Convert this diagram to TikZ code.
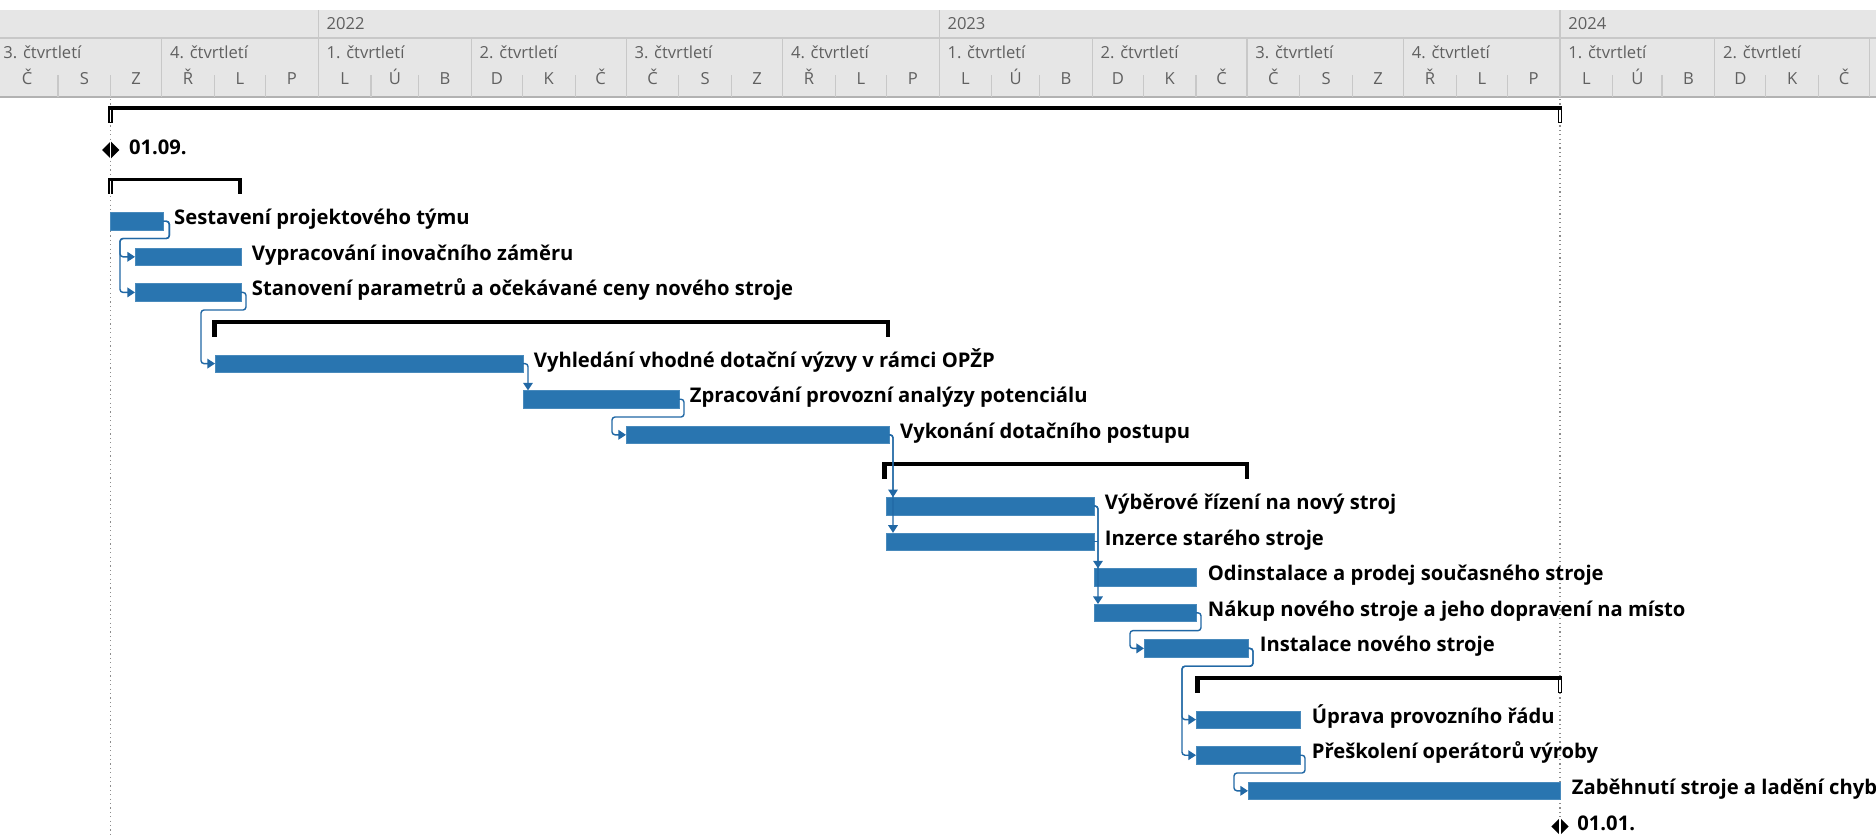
\documentclass[tikz,border=0pt]{standalone}
\usepackage{fontspec}
\setmainfont{Open Sans}
\usetikzlibrary{arrows.meta,calc,shapes.geometric}

\definecolor{barblue}{RGB}{41,117,176}
\definecolor{linkblue}{RGB}{33,104,165}
\definecolor{hdrbg}{RGB}{230,230,230}
\definecolor{hdrline}{RGB}{200,200,200}
\definecolor{hdrtext}{RGB}{96,96,96}
\definecolor{gridline}{RGB}{140,140,140}

\tikzset{
  taskbar/.style={fill=barblue, draw=barblue!85!white, line width=0.3pt,
    inner sep=0pt, outer sep=0pt, minimum height=8.8pt, anchor=west},
  link/.style={draw=linkblue, line width=0.7pt, rounded corners=1.5pt,
    -{Triangle[length=3.8pt,width=4.8pt]}},
  linkstub/.style={draw=linkblue, line width=0.7pt},
  tasklabel/.style={font=\bfseries\fontsize{10.1pt}{12pt}\selectfont,
    anchor=base west, inner sep=0pt, text=black},
  hdr/.style={font=\fontsize{8.3pt}{10pt}\selectfont, text=hdrtext, inner sep=0pt},
  milestone/.style={diamond, fill=black, inner sep=0pt,
    minimum width=8.8pt, minimum height=8.8pt},
  projline/.style={draw=gridline, line width=0.6pt, dash pattern=on 0.6pt off 1.6pt},
  hdrrule/.style={draw=hdrline, line width=0.6pt},
}

% task bar: name, start x, end x, row centre y
\newcommand\ganttbar[4]{\node[taskbar, minimum width={(#3-#2)*0.5pt}] (#1) at (#2,#4) {};}
% summary bracket: start x, end x, row centre y
\newcommand\summline[3]{\fill[black] (#1,#3-8) rectangle (#2,#3-4.5);}
\newcommand\legleft[2]{\fill[black] (#1,#2-8) rectangle (#1+4.5,#2+8.5);}
\newcommand\legright[2]{\fill[black] (#1-4.5,#2-8) rectangle (#1,#2+8.5);}
% leg crossed by the dotted project line
\newcommand\legsplit[2]{%
  \fill[black] (#1-2.4,#2-8) rectangle (#1+2.4,#2+8.5);
  \draw[white, line width=0.6pt] (#1,#2-4.5) -- (#1,#2+8);}

\begin{document}
\begin{tikzpicture}[x=0.5pt,y=-0.5pt]
\useasboundingbox (0,0) rectangle (1876,837);
\fill[white] (0,0) rectangle (1876,837);

% ---------- timescale header ----------
\fill[hdrbg] (0,10) rectangle (1876,97);
\draw[draw=hdrline, line width=0.8pt] (0,38) -- (1876,38);
\draw[draw=gray!60, line width=0.8pt] (0,97) -- (1876,97);
\foreach \x in {318.2,939.1,1560.0}
  \draw[hdrrule] (\x,10) -- (\x,38);
\foreach \x in {161.7,318.2,471.3,626.1,782.6,939.1,1092.2,1247.0,1403.5,1560.0,1714.8,1869.5}
  \draw[hdrrule] (\x,38) -- (\x,97);
\foreach \x in {58.0,110.7,214.5,265.5,370.9,418.6,522.3,575.1,678.8,731.6,835.4,886.4,
                991.8,1039.5,1143.3,1196.0,1299.7,1352.5,1456.3,1507.3,1612.7,1662.0,1765.8,1818.5}
  \draw[hdrrule] (\x,75) -- (\x,97);

\node[hdr, anchor=base west] (yr1) at (326.2,29) {2022};
\node[hdr, anchor=base west] (yr2) at (947.1,29) {2023};
\node[hdr, anchor=base west] (yr3) at (1568.0,29) {2024};

\foreach \x/\q [count=\i] in {3/3,169.7/4,326.2/1,479.3/2,634.1/3,790.6/4,947.1/1,
                              1100.2/2,1255.0/3,1411.5/4,1568.0/1,1722.8/2}
  \node[hdr, anchor=base west] (qt\i) at (\x,58) {\q. čtvrtletí};

\foreach \x/\m [count=\i] in {27/Č,84.4/S,136.2/Z,188.1/Ř,240.0/L,291.9/P,
    344.6/L,394.8/Ú,445.0/B,496.8/D,548.7/K,600.6/Č,
    652.5/Č,705.2/S,757.1/Z,809.0/Ř,860.9/L,912.8/P,
    965.5/L,1015.7/Ú,1065.9/B,1117.8/D,1169.7/K,1221.5/Č,
    1273.4/Č,1326.1/S,1378.0/Z,1429.9/Ř,1481.8/L,1533.7/P,
    1586.4/L,1637.4/Ú,1688.4/B,1740.3/D,1792.2/K,1844.0/Č}
  \node[hdr, anchor=base] (mo\i) at (\x,84) {\m};

% ---------- project start / finish lines ----------
\draw[projline] (110.7,99) -- (110.7,837);
\draw[projline] (1560,99) -- (1560,837);

% ---------- summary brackets ----------
% whole project
\summline{110.7}{1560}{114.4}
\legsplit{110.7}{114.4}
\legsplit{1560}{114.4}
% phase 1
\summline{110.7}{242}{185.6}
\legsplit{110.7}{185.6}
\legright{242}{185.6}
% phase 2
\summline{212}{890}{328}
\legleft{212}{328}
\legright{890}{328}
% phase 3
\summline{882}{1249}{470.4}
\legleft{882}{470.4}
\legright{1249}{470.4}
% phase 4
\summline{1195}{1560}{684}
\legleft{1195}{684}
\legsplit{1560}{684}

% ---------- task bars ----------
\ganttbar{s1}{110.7}{163.3}{221.2}
\ganttbar{s2}{135}{241}{256.8}
\ganttbar{s3}{135}{241}{292.4}
\ganttbar{s4}{215}{523}{363.6}
\ganttbar{s5}{523}{679}{399.2}
\ganttbar{s6}{626}{889.3}{434.8}
\ganttbar{s7}{886}{1094}{506}
\ganttbar{s8}{886}{1094}{541.6}
\ganttbar{s9}{1094}{1196}{577.2}
\ganttbar{s10}{1094}{1196}{612.8}
\ganttbar{s11}{1144}{1248}{648.4}
\ganttbar{s12}{1196}{1300}{719.6}
\ganttbar{s13}{1196}{1300}{755.2}
\ganttbar{s14}{1248}{1560}{790.8}

% ---------- dependency links ----------
\draw[link] (s1.east) -| ++(6,17.3) -| ($(s2.west)+(-15,0)$) -- (s2.west);
\draw[link] (s1.east) -| ++(6,17.3) -| ($(s3.west)+(-15,0)$) -- (s3.west);
\draw[link] (s3.east) -| ++(5,17.6) -| ($(s4.west)+(-14,0)$) -- (s4.west);
\draw[link] (s4.east) -| ($(s5.north west)+(5,0)$);
\draw[link] (s5.east) -| ++(5,17.8) -| ($(s6.west)+(-14,0)$) -- (s6.west);
\draw[link] (s6.east) -| ($(s7.north west)+(7,0)$);
\draw[link] (s6.east) -| ($(s8.north west)+(7,0)$);
\draw[link] (s7.east) -| ($(s9.north west)+(4,0)$);
\draw[link] (s7.east) -| ($(s10.north west)+(4,0)$);
\draw[linkstub] (s8.east) -- ++(4,0);
\draw[link] (s10.east) -| ++(5,17.8) -| ($(s11.west)+(-14,0)$) -- (s11.west);
\draw[link] (s11.east) -| ++(5,17.8) -| ($(s12.west)+(-14,0)$) -- (s12.west);
\draw[link] (s11.east) -| ++(5,17.8) -| ($(s13.west)+(-14,0)$) -- (s13.west);
\draw[link] (s13.east) -| ++(5,17.8) -| ($(s14.west)+(-14,0)$) -- (s14.west);

% ---------- milestones ----------
\node[milestone] (ms1) at (110.7,150) {};
\draw[white, line width=0.6pt] (ms1.north) -- (ms1.south);
\node[milestone] (ms2) at (1560,826.4) {};
\draw[white, line width=0.6pt] (ms2.north) -- (ms2.south);

% ---------- labels ----------
\node[tasklabel] (l0) at ($(ms1.center)+(18,4.5)$) {01.09.};
\node[tasklabel] (l1) at ($(s1.east)+(10.5,3.5)$) {Sestavení projektového týmu};
\node[tasklabel] (l2) at ($(s2.east)+(10.5,3.5)$) {Vypracování inovačního záměru};
\node[tasklabel] (l3) at ($(s3.east)+(10.5,3.5)$) {Stanovení parametrů a očekávané ceny nového stroje};
\node[tasklabel] (l4) at ($(s4.east)+(10.5,3.5)$) {Vyhledání vhodné dotační výzvy v rámci OPŽP};
\node[tasklabel] (l5) at ($(s5.east)+(10.5,3.5)$) {Zpracování provozní analýzy potenciálu};
\node[tasklabel] (l6) at ($(s6.east)+(10.5,3.5)$) {Vykonání dotačního postupu};
\node[tasklabel] (l7) at ($(s7.east)+(10.5,3.5)$) {Výběrové řízení na nový stroj};
\node[tasklabel] (l8) at ($(s8.east)+(10.5,3.5)$) {Inzerce starého stroje};
\node[tasklabel] (l9) at ($(s9.east)+(11.5,3.5)$) {Odinstalace a prodej současného stroje};
\node[tasklabel] (l10) at ($(s10.east)+(11.5,3.5)$) {Nákup nového stroje a jeho dopravení na místo};
\node[tasklabel] (l11) at ($(s11.east)+(11.5,3.5)$) {Instalace nového stroje};
\node[tasklabel] (l12) at ($(s12.east)+(11.5,3.5)$) {Úprava provozního řádu};
\node[tasklabel] (l13) at ($(s13.east)+(11.5,3.5)$) {Přeškolení operátorů výroby};
\node[tasklabel] (l14) at ($(s14.east)+(11.5,3.5)$) {Zaběhnutí stroje a ladění chyb};
\node[tasklabel] (l15) at ($(ms2.center)+(17,4.5)$) {01.01.};
\end{tikzpicture}
\end{document}
